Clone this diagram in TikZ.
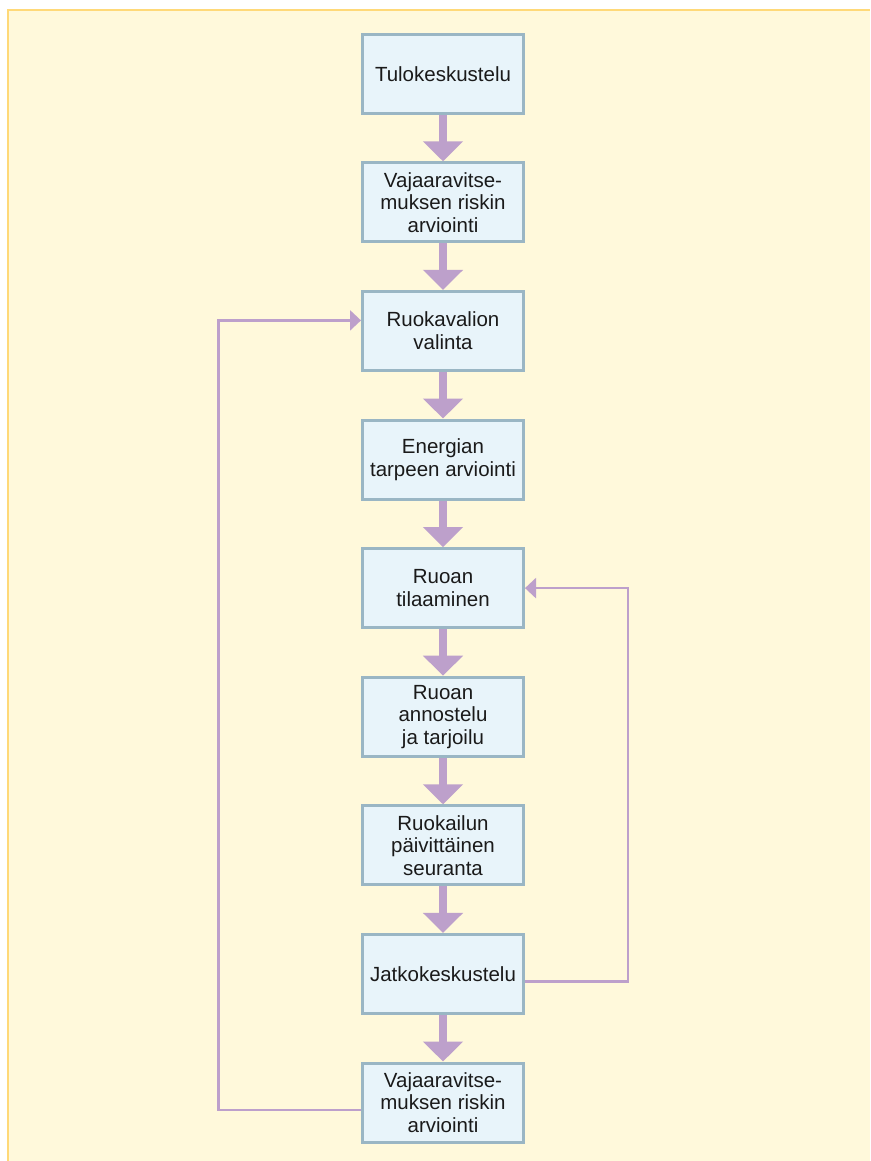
\documentclass[tikz,border=0pt]{standalone}
\usepackage{fontspec}
\setmainfont{Liberation Sans}
\usepackage{xcolor}
\definecolor{ravbg}{HTML}{FFF9DB}
\definecolor{ravedge}{HTML}{FFD978}
\definecolor{ravbox}{HTML}{E8F4FA}
\definecolor{ravline}{HTML}{9AB6C4}
\definecolor{ravarrow}{HTML}{BDA0CB}
\definecolor{ravtext}{HTML}{1A1A1A}
\usetikzlibrary{arrows.meta, positioning}

\begin{document}
\begin{tikzpicture}[
  node distance=46.6pt,
  box/.style={rectangle, draw=ravline, fill=ravbox, line width=3pt,
    minimum width=161pt, minimum height=79pt, inner sep=0pt, align=center,
    text=ravtext, font=\fontsize{20.5}{22.5}\selectfont},
  arrow/.style={-{Triangle[length=20pt, width=39pt]}, line width=7.5pt, color=ravarrow},
  loop/.style={-{Triangle[length=11pt, width=20pt]}, line width=2.5pt, color=ravarrow}
]

\useasboundingbox (0,0) rectangle (870pt,-1161pt);
\fill[ravbg] (8pt,-10pt) rectangle (870pt,-1161pt);
\draw[ravedge, line width=1.5pt] (8pt,-1161pt) -- (8pt,-10pt) -- (870pt,-10pt);

\node[box] (tulo) at (443pt,-73.7pt) {Tulokeskustelu};
\node[box, below=of tulo] (vaja) {Vajaaravitse-\\muksen riskin\\arviointi};
\node[box, below=of vaja] (ruokavalio) {Ruokavalion\\valinta};
\node[box, below=of ruokavalio] (energia) {Energian\\tarpeen arviointi};
\node[box, below=of energia] (tilaus) {Ruoan\\tilaaminen};
\node[box, below=of tilaus] (annostelu) {Ruoan\\annostelu\\ja tarjoilu};
\node[box, below=of annostelu] (seuranta) {Ruokailun\\päivittäinen\\seuranta};
\node[box, below=of seuranta] (jatko) {Jatkokeskustelu};
\node[box, below=of jatko] (vaja2) {Vajaaravitse-\\muksen riskin\\arviointi};

\draw[arrow] (tulo) -- (vaja);
\draw[arrow] (vaja) -- (ruokavalio);
\draw[arrow] (ruokavalio) -- (energia);
\draw[arrow] (energia) -- (tilaus);
\draw[arrow] (tilaus) -- (annostelu);
\draw[arrow] (annostelu) -- (seuranta);
\draw[arrow] (seuranta) -- (jatko);
\draw[arrow] (jatko) -- (vaja2);

% palautesilmukat
\coordinate (vasen) at (218.5pt,0);
\coordinate (oikea) at (628pt,0);
\coordinate (paluu) at ([yshift=10.5pt]ruokavalio.west);
\draw[loop] ([yshift=-7.5pt]vaja2.west) -| (vasen |- paluu) -- (paluu);
\draw[loop] ([yshift=-7.5pt]jatko.east) -| (oikea |- tilaus.east) -- (tilaus.east);
\end{tikzpicture}
\end{document}
